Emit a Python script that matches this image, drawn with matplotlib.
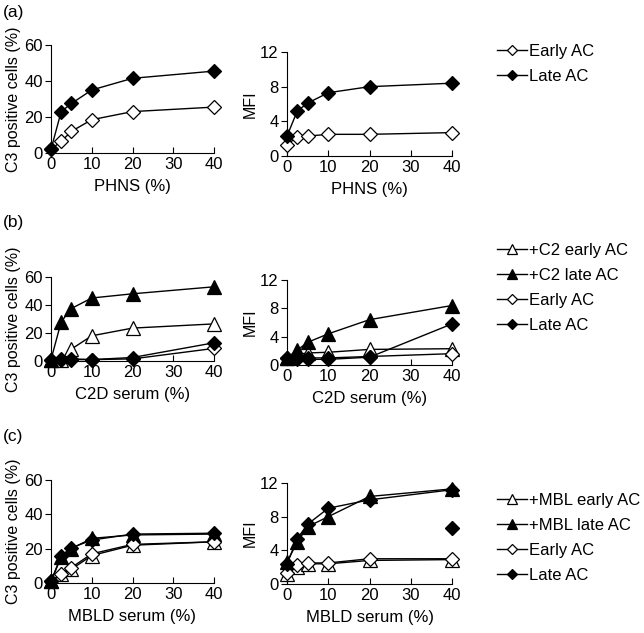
import matplotlib
matplotlib.use("Agg")
import matplotlib.pyplot as plt

plt.rcParams["font.family"] = ["Liberation Sans", "DejaVu Sans"]
plt.rcParams["font.size"] = 12

serum = [0, 2.5, 5, 10, 20, 40]

# (a) PHNS
a_pct_early = [2, 6.5, 12, 18.5, 23, 25.5]
a_pct_late = [2, 23, 27.5, 35, 41.5, 45.5]
a_mfi_early = [1.3, 2.2, 2.3, 2.5, 2.5, 2.7]
a_mfi_late = [2.3, 5.2, 6.1, 7.3, 8.0, 8.4]

# (b) C2D serum
b_pct_c2_early = [1, 1, 8.5, 18, 23.5, 26.5]
b_pct_c2_late = [1, 28, 37.5, 45, 48, 53]
b_pct_early = [1, 1, 1, 1, 1.5, 9]
b_pct_late = [1, 1.5, 1.5, 1, 2.5, 13]
b_mfi_c2_early = [1.0, 1.5, 1.7, 1.8, 2.2, 2.3]
b_mfi_c2_late = [1.0, 2.1, 3.2, 4.4, 6.4, 8.4]
b_mfi_early = [1.0, 1.0, 1.0, 1.0, 1.2, 1.6]
b_mfi_late = [1.0, 0.9, 0.8, 0.8, 1.1, 5.8]

# (c) MBLD serum
c_pct_mbl_early = [1, 5, 8, 16, 22, 24]
c_pct_mbl_late = [1, 15, 20, 26, 28, 28.5]
c_pct_early = [1, 5.5, 9, 17, 22.5, 24]
c_pct_late = [1, 16, 20.5, 25, 28.5, 29]
c_mfi_mbl_early = [1.2, 2.0, 2.4, 2.4, 2.8, 2.9]
c_mfi_mbl_late = [2.6, 5.0, 6.8, 8.0, 10.4, 11.3]
c_mfi_early = [1.3, 2.2, 2.5, 2.5, 3.0, 3.0]
c_mfi_late = [2.4, 5.4, 7.1, 9.0, 10.0, 11.2]
c_mfi_late_extra_x = [40]
c_mfi_late_extra = [6.6]

STYLES = {
    "open_dia": dict(marker="D", mfc="white", ms=7.2),
    "fill_dia": dict(marker="D", mfc="black", ms=7.2),
    "open_tri": dict(marker="^", mfc="white", ms=10),
    "fill_tri": dict(marker="^", mfc="black", ms=10),
}


def draw(ax, y, style, label=None):
    return ax.plot(serum, y, color="black", lw=1, mec="black", mew=0.9,
                   clip_on=False, zorder=3, label=label, **STYLES[style])[0]


def style_axis(ax, ymax, ystep, xlabel, ylabel):
    ax.set_xlim(0, 40)
    ax.set_ylim(0, ymax)
    ax.set_xticks([0, 10, 20, 30, 40])
    ax.set_yticks(range(0, ymax + 1, ystep))
    ax.spines["top"].set_visible(False)
    ax.spines["right"].set_visible(False)
    ax.tick_params(axis="x", direction="in", length=4, pad=3)
    ax.tick_params(axis="y", direction="out", length=4, pad=2)
    ax.set_xlabel(xlabel, labelpad=5)
    ax.set_ylabel(ylabel, labelpad=2, fontsize=11.5)


fig = plt.figure(figsize=(6.44, 6.33), dpi=100)

H = 633.0
W = 644.0


def make_ax(x0, x1, ytop, ybot):
    return fig.add_axes([x0 / W, 1 - ybot / H, (x1 - x0) / W, (ybot - ytop) / H])


legend_kw = dict(frameon=False, handlelength=1.8, handletextpad=0.15,
                 labelspacing=0.6, fontsize=12, borderaxespad=0, markerscale=0.75)

# row a
ax = make_ax(51, 214, 45, 153)
draw(ax, a_pct_early, "open_dia")
draw(ax, a_pct_late, "fill_dia")
style_axis(ax, 60, 20, "PHNS (%)", "C3 positive cells (%)")

ax = make_ax(287, 452, 52, 156)
h1 = draw(ax, a_mfi_early, "open_dia", "Early AC")
h2 = draw(ax, a_mfi_late, "fill_dia", "Late AC")
style_axis(ax, 12, 4, "PHNS (%)", "MFI")
fig.legend(handles=[h1, h2], loc="upper left", bbox_to_anchor=(490 / W, 1 - 37 / H), **legend_kw)

# row b
ax = make_ax(51, 214, 277, 361)
draw(ax, b_pct_c2_early, "open_tri")
draw(ax, b_pct_c2_late, "fill_tri")
draw(ax, b_pct_early, "open_dia")
draw(ax, b_pct_late, "fill_dia")
style_axis(ax, 60, 20, "C2D serum (%)", "C3 positive cells (%)")

ax = make_ax(287, 452, 280, 365)
h1 = draw(ax, b_mfi_c2_early, "open_tri", "+C2 early AC")
h2 = draw(ax, b_mfi_c2_late, "fill_tri", "+C2 late AC")
h3 = draw(ax, b_mfi_early, "open_dia", "Early AC")
h4 = draw(ax, b_mfi_late, "fill_dia", "Late AC")
style_axis(ax, 12, 4, "C2D serum (%)", "MFI")
fig.legend(handles=[h1, h2, h3, h4], loc="upper left", bbox_to_anchor=(490 / W, 1 - 236 / H), **legend_kw)

# row c
ax = make_ax(51, 214, 480, 583)
draw(ax, c_pct_mbl_early, "open_tri")
draw(ax, c_pct_mbl_late, "fill_tri")
draw(ax, c_pct_early, "open_dia")
draw(ax, c_pct_late, "fill_dia")
style_axis(ax, 60, 20, "MBLD serum (%)", "C3 positive cells (%)")

ax = make_ax(287, 452, 483, 584)
h1 = draw(ax, c_mfi_mbl_early, "open_tri", "+MBL early AC")
h2 = draw(ax, c_mfi_mbl_late, "fill_tri", "+MBL late AC")
h3 = draw(ax, c_mfi_early, "open_dia", "Early AC")
h4 = draw(ax, c_mfi_late, "fill_dia", "Late AC")
ax.plot(c_mfi_late_extra_x, c_mfi_late_extra, ls="none", color="black",
        clip_on=False, zorder=3, **STYLES["fill_dia"])
style_axis(ax, 12, 4, "MBLD serum (%)", "MFI")
fig.legend(handles=[h1, h2, h3, h4], loc="upper left", bbox_to_anchor=(490 / W, 1 - 486 / H), **legend_kw)

for lbl, y in [("(a)", 12), ("(b)", 222), ("(c)", 437)]:
    fig.text(3 / W, 1 - y / H, lbl, fontsize=12.5, va="center", ha="left")

fig.savefig("out.png", dpi=100)
